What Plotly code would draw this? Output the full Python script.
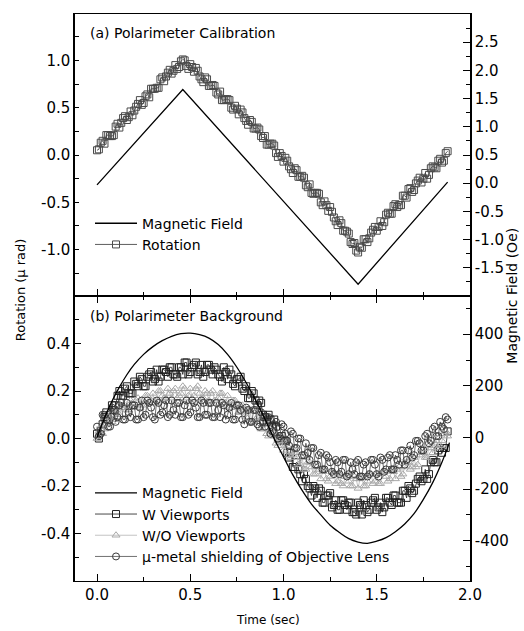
import plotly.graph_objects as go

# ---------------- data ----------------
# two interleaved acquisition passes (even / odd hundredths of a second)
time_s = [0.00, 0.02, 0.04, 0.06, 0.08, 0.10, 0.12, 0.14, 0.16, 0.18,
          0.20, 0.22, 0.24, 0.26, 0.28, 0.30, 0.32, 0.34, 0.36, 0.38,
          0.40, 0.42, 0.44, 0.46, 0.48, 0.50, 0.52, 0.54, 0.56, 0.58,
          0.60, 0.62, 0.64, 0.66, 0.68, 0.70, 0.72, 0.74, 0.76, 0.78,
          0.80, 0.82, 0.84, 0.86, 0.88, 0.90, 0.92, 0.94, 0.96, 0.98,
          1.00, 1.02, 1.04, 1.06, 1.08, 1.10, 1.12, 1.14, 1.16, 1.18,
          1.20, 1.22, 1.24, 1.26, 1.28, 1.30, 1.32, 1.34, 1.36, 1.38,
          1.40, 1.42, 1.44, 1.46, 1.48, 1.50, 1.52, 1.54, 1.56, 1.58,
          1.60, 1.62, 1.64, 1.66, 1.68, 1.70, 1.72, 1.74, 1.76, 1.78,
          1.80, 1.82, 1.84, 1.86, 1.88]
time_s2 = [0.01, 0.03, 0.05, 0.07, 0.09, 0.11, 0.13, 0.15, 0.17, 0.19,
           0.21, 0.23, 0.25, 0.27, 0.29, 0.31, 0.33, 0.35, 0.37, 0.39,
           0.41, 0.43, 0.45, 0.47, 0.49, 0.51, 0.53, 0.55, 0.57, 0.59,
           0.61, 0.63, 0.65, 0.67, 0.69, 0.71, 0.73, 0.75, 0.77, 0.79,
           0.81, 0.83, 0.85, 0.87, 0.89, 0.91, 0.93, 0.95, 0.97, 0.99,
           1.01, 1.03, 1.05, 1.07, 1.09, 1.11, 1.13, 1.15, 1.17, 1.19,
           1.21, 1.23, 1.25, 1.27, 1.29, 1.31, 1.33, 1.35, 1.37, 1.39,
           1.41, 1.43, 1.45, 1.47, 1.49, 1.51, 1.53, 1.55, 1.57, 1.59,
           1.61, 1.63, 1.65, 1.67, 1.69, 1.71, 1.73, 1.75, 1.77, 1.79,
           1.81, 1.83, 1.85, 1.87]

# (a) calibration
cal_field_t = [0.0, 0.46, 1.40, 1.88]
cal_field_oe = [-0.03, 1.66, -1.79, 0.02]
cal_rotation = [0.05, 0.13, 0.12, 0.21, 0.20, 0.30, 0.29, 0.39, 0.37, 0.46,
                0.47, 0.54, 0.53, 0.62, 0.61, 0.70, 0.71, 0.80, 0.78, 0.87,
                0.86, 0.95, 0.93, 1.01, 0.94, 0.96, 0.88, 0.89, 0.80, 0.82,
                0.73, 0.74, 0.66, 0.67, 0.58, 0.59, 0.50, 0.52, 0.43, 0.45,
                0.36, 0.37, 0.28, 0.29, 0.20, 0.20, 0.11, 0.12, 0.02, 0.02,
                -0.07, -0.06, -0.15, -0.14, -0.23, -0.22, -0.32, -0.31, -0.41, -0.40,
                -0.50, -0.49, -0.59, -0.60, -0.70, -0.69, -0.80, -0.81, -0.92, -0.93,
                -1.03, -0.98, -0.89, -0.88, -0.79, -0.80, -0.70, -0.71, -0.61, -0.62,
                -0.52, -0.53, -0.43, -0.45, -0.35, -0.37, -0.27, -0.29, -0.19, -0.21,
                -0.12, -0.14, -0.04, -0.06, 0.04]
cal_rotation2 = [0.06, 0.15, 0.21, 0.20, 0.21, 0.33, 0.34, 0.41, 0.40, 0.42,
                 0.51, 0.58, 0.55, 0.64, 0.70, 0.70, 0.71, 0.82, 0.83, 0.90,
                 0.89, 0.91, 0.99, 1.00, 0.91, 0.93, 0.92, 0.83, 0.77, 0.80,
                 0.73, 0.73, 0.64, 0.58, 0.59, 0.58, 0.48, 0.49, 0.48, 0.39,
                 0.32, 0.35, 0.28, 0.27, 0.18, 0.11, 0.12, 0.10, -0.02, -0.01,
                 -0.03, -0.12, -0.19, -0.16, -0.23, -0.24, -0.34, -0.40, -0.40, -0.41,
                 -0.53, -0.53, -0.55, -0.66, -0.74, -0.72, -0.80, -0.83, -0.94, -1.01,
                 -0.97, -0.89, -0.92, -0.82, -0.76, -0.76, -0.75, -0.63, -0.62, -0.54,
                 -0.55, -0.53, -0.43, -0.36, -0.39, -0.30, -0.24, -0.25, -0.25, -0.14,
                 -0.13, -0.06, -0.08, 0.02]

# (b) background
bg_field_t = [0.00, 0.04, 0.08, 0.12, 0.16, 0.20, 0.25, 0.30, 0.35, 0.40,
              0.45, 0.50, 0.55, 0.60, 0.65, 0.70, 0.75, 0.80, 0.85, 0.90,
              0.95, 1.00, 1.05, 1.10, 1.15, 1.20, 1.25, 1.30, 1.35, 1.40,
              1.45, 1.50, 1.55, 1.60, 1.65, 1.70, 1.75, 1.80, 1.85, 1.89]
bg_field_oe = [0, 75, 140, 195, 243, 283, 322, 352, 375, 392,
               402, 404, 398, 385, 360, 322, 272, 212, 145, 72,
               -5, -75, -145, -205, -258, -300, -340, -368, -392, -405,
               -410, -402, -388, -365, -335, -295, -240, -175, -95, -20]
w_viewports = [0.02, 0.03, 0.09, 0.08, 0.14, 0.14, 0.20, 0.18, 0.22, 0.19,
               0.24, 0.22, 0.25, 0.22, 0.27, 0.24, 0.29, 0.26, 0.29, 0.26,
               0.30, 0.27, 0.30, 0.27, 0.32, 0.28, 0.31, 0.27, 0.31, 0.28,
               0.31, 0.27, 0.29, 0.26, 0.30, 0.25, 0.27, 0.22, 0.25, 0.21,
               0.22, 0.17, 0.19, 0.14, 0.15, 0.09, 0.10, 0.05, 0.05, -0.01,
               -0.01, -0.06, -0.06, -0.12, -0.13, -0.18, -0.17, -0.21, -0.20, -0.25,
               -0.22, -0.27, -0.24, -0.29, -0.26, -0.30, -0.26, -0.30, -0.27, -0.31,
               -0.27, -0.32, -0.28, -0.30, -0.26, -0.30, -0.27, -0.29, -0.25, -0.28,
               -0.24, -0.27, -0.22, -0.25, -0.21, -0.22, -0.17, -0.18, -0.13, -0.15,
               -0.09, -0.10, -0.04, -0.04, 0.03]
w_viewports2 = [0.00, 0.06, 0.11, 0.10, 0.12, 0.18, 0.18, 0.21, 0.19, 0.19,
                0.23, 0.26, 0.22, 0.26, 0.28, 0.25, 0.24, 0.29, 0.28, 0.30,
                0.27, 0.26, 0.30, 0.32, 0.27, 0.30, 0.32, 0.28, 0.26, 0.31,
                0.29, 0.30, 0.27, 0.24, 0.28, 0.29, 0.23, 0.25, 0.26, 0.20,
                0.17, 0.20, 0.16, 0.16, 0.10, 0.07, 0.08, 0.08, 0.00, 0.01,
                -0.01, -0.08, -0.12, -0.10, -0.15, -0.15, -0.20, -0.24, -0.21, -0.21,
                -0.27, -0.24, -0.23, -0.28, -0.30, -0.26, -0.28, -0.27, -0.31, -0.32,
                -0.28, -0.26, -0.31, -0.27, -0.25, -0.29, -0.31, -0.25, -0.27, -0.24,
                -0.27, -0.27, -0.22, -0.20, -0.23, -0.19, -0.16, -0.17, -0.17, -0.10,
                -0.10, -0.05, -0.06, -0.04]
wo_viewports = [0.00, 0.05, 0.04, 0.09, 0.07, 0.12, 0.10, 0.14, 0.12, 0.16,
                0.13, 0.17, 0.14, 0.18, 0.15, 0.19, 0.16, 0.20, 0.17, 0.21,
                0.17, 0.21, 0.18, 0.22, 0.17, 0.21, 0.18, 0.22, 0.17, 0.20,
                0.16, 0.20, 0.16, 0.19, 0.15, 0.18, 0.13, 0.16, 0.11, 0.14,
                0.09, 0.12, 0.07, 0.09, 0.04, 0.06, 0.01, 0.03, -0.02, 0.00,
                -0.05, -0.03, -0.08, -0.06, -0.11, -0.08, -0.13, -0.10, -0.15, -0.12,
                -0.17, -0.13, -0.18, -0.14, -0.19, -0.15, -0.20, -0.16, -0.20, -0.16,
                -0.21, -0.16, -0.20, -0.15, -0.19, -0.15, -0.19, -0.14, -0.18, -0.13,
                -0.17, -0.12, -0.15, -0.10, -0.13, -0.08, -0.11, -0.06, -0.08, -0.03,
                -0.06, -0.01, -0.03, 0.02, 0.01]
wo_viewports2 = [0.03, 0.02, 0.06, 0.10, 0.08, 0.09, 0.13, 0.13, 0.12, 0.15,
                 0.16, 0.13, 0.16, 0.18, 0.16, 0.15, 0.20, 0.18, 0.17, 0.19,
                 0.20, 0.17, 0.19, 0.21, 0.18, 0.17, 0.21, 0.19, 0.17, 0.19,
                 0.19, 0.16, 0.17, 0.19, 0.15, 0.13, 0.16, 0.14, 0.11, 0.12,
                 0.12, 0.07, 0.08, 0.09, 0.04, 0.02, 0.04, 0.01, -0.03, -0.01,
                 -0.02, -0.07, -0.07, -0.06, -0.11, -0.13, -0.10, -0.12, -0.15, -0.13,
                 -0.14, -0.17, -0.16, -0.14, -0.18, -0.19, -0.16, -0.18, -0.20, -0.17,
                 -0.17, -0.20, -0.18, -0.15, -0.18, -0.19, -0.14, -0.16, -0.17, -0.14,
                 -0.13, -0.16, -0.12, -0.10, -0.12, -0.12, -0.07, -0.06, -0.08, -0.04,
                 -0.02, -0.04, -0.01, 0.03]
mu_metal = [0.05, 0.02, 0.10, 0.05, 0.13, 0.07, 0.14, 0.08, 0.15, 0.09,
            0.14, 0.08, 0.16, 0.10, 0.15, 0.09, 0.16, 0.10, 0.14, 0.09,
            0.16, 0.10, 0.15, 0.09, 0.16, 0.11, 0.15, 0.09, 0.16, 0.10,
            0.15, 0.09, 0.15, 0.09, 0.14, 0.10, 0.15, 0.08, 0.14, 0.08,
            0.13, 0.07, 0.12, 0.06, 0.11, 0.05, 0.09, 0.03, 0.07, 0.01,
            0.05, -0.01, 0.03, -0.04, 0.00, -0.07, -0.02, -0.09, -0.04, -0.11,
            -0.06, -0.13, -0.08, -0.14, -0.09, -0.15, -0.09, -0.16, -0.10, -0.15,
            -0.09, -0.16, -0.10, -0.15, -0.09, -0.15, -0.08, -0.14, -0.08, -0.13,
            -0.07, -0.11, -0.05, -0.09, -0.03, -0.07, -0.01, -0.05, 0.01, -0.02,
            0.04, 0.01, 0.07, 0.04, 0.08]
mu_metal2 = [0.01, 0.10, 0.08, 0.05, 0.12, 0.09, 0.15, 0.08, 0.11, 0.14,
             0.08, 0.13, 0.09, 0.16, 0.13, 0.08, 0.15, 0.11, 0.16, 0.10,
             0.12, 0.15, 0.09, 0.14, 0.10, 0.16, 0.13, 0.09, 0.15, 0.10,
             0.15, 0.09, 0.12, 0.15, 0.08, 0.13, 0.08, 0.14, 0.12, 0.06,
             0.12, 0.07, 0.12, 0.05, 0.07, 0.09, 0.02, 0.06, 0.00, 0.06,
             0.02, -0.03, 0.02, -0.04, 0.00, -0.07, -0.06, -0.04, -0.11, -0.07,
             -0.13, -0.07, -0.10, -0.15, -0.10, -0.14, -0.09, -0.15, -0.13, -0.10,
             -0.16, -0.11, -0.16, -0.09, -0.11, -0.16, -0.09, -0.13, -0.07, -0.13,
             -0.09, -0.05, -0.11, -0.05, -0.08, -0.01, -0.02, -0.05, 0.02, -0.01,
             0.05, 0.01, 0.05, 0.09]

rot_ticks = [-1.0, -0.5, 0.0, 0.5, 1.0]
rot_ticktext = ["-1.0", "-0.5", "0.0", "0.5", "1.0"]
calf_ticks = [-1.5, -1.0, -0.5, 0.0, 0.5, 1.0, 1.5, 2.0, 2.5]
calf_ticktext = ["-1.5", "-1.0", "-0.5", "0.0", "0.5", "1.0", "1.5", "2.0", "2.5"]
bg_ticks = [-0.4, -0.2, 0.0, 0.2, 0.4]
bg_ticktext = ["-0.4", "-0.2", "0.0", "0.2", "0.4"]
bgf_ticks = [-400, -200, 0, 200, 400]
bgf_ticktext = ["-400", "-200", "0", "200", "400"]
time_ticks = [0.0, 0.5, 1.0, 1.5, 2.0]
time_ticktext = ["0.0", "0.5", "1.0", "1.5", "2.0"]


def merged(t1, v1, t2, v2):
    pts = sorted(zip(t1 + t2, v1 + v2))
    return [p[0] for p in pts], [p[1] for p in pts]


# ---------------- figure ----------------
FONT = "DejaVu Sans"
fig = go.Figure()

fig.add_trace(go.Scatter(x=cal_field_t, y=cal_field_oe, xaxis="x", yaxis="y2",
                         mode="lines", line=dict(color="black", width=1.3),
                         name="Magnetic Field", legend="legend"))
tx, ty = merged(time_s, cal_rotation, time_s2, cal_rotation2)
fig.add_trace(go.Scatter(x=tx, y=ty, xaxis="x", yaxis="y",
                         mode="lines+markers", line=dict(color="#333333", width=0.8),
                         marker=dict(symbol="square-open", size=7, color="#4a4a4a",
                                     line=dict(width=1)),
                         name="Rotation", legend="legend"))

fig.add_trace(go.Scatter(x=bg_field_t, y=bg_field_oe, xaxis="x2", yaxis="y4",
                         mode="lines", line=dict(color="black", width=1.3, shape="spline"),
                         name="Magnetic Field", legend="legend2"))
tx, ty = merged(time_s, w_viewports, time_s2, w_viewports2)
fig.add_trace(go.Scatter(x=tx, y=ty, xaxis="x2", yaxis="y3",
                         mode="lines+markers", line=dict(color="#1a1a1a", width=0.8),
                         marker=dict(symbol="square-open", size=7, color="#222222",
                                     line=dict(width=1)),
                         name="W Viewports", legend="legend2"))
tx, ty = merged(time_s, wo_viewports, time_s2, wo_viewports2)
fig.add_trace(go.Scatter(x=tx, y=ty, xaxis="x2", yaxis="y3",
                         mode="lines+markers", line=dict(color="#b4b4b4", width=0.8),
                         marker=dict(symbol="triangle-up-open", size=7, color="#a8a8a8",
                                     line=dict(width=1)),
                         name="W/O Viewports", legend="legend2"))
tx, ty = merged(time_s, mu_metal, time_s2, mu_metal2)
fig.add_trace(go.Scatter(x=tx, y=ty, xaxis="x2", yaxis="y3",
                         mode="lines+markers", line=dict(color="#333333", width=0.7),
                         marker=dict(symbol="circle-open", size=7, color="#3a3a3a",
                                     line=dict(width=1)),
                         name="\u00b5-metal shielding of Objective Lens", legend="legend2"))

axis_common = dict(showline=True, linecolor="black", linewidth=1.5, showgrid=False,
                   zeroline=False, ticks="inside", ticklen=6, tickwidth=1.2,
                   tickcolor="black", tickfont=dict(family=FONT, size=15, color="black"))

TOP_DOM = [0.5026, 1.0]
BOT_DOM = [0.0, 0.5026]
XR = [-0.118, 2.0]

fig.update_layout(
    width=524, height=631,
    margin=dict(l=75, r=54, t=14, b=50),
    plot_bgcolor="white", paper_bgcolor="white",
    font=dict(family=FONT, size=14, color="black"),
    showlegend=True,
    xaxis=dict(axis_common, domain=[0, 1], anchor="y", range=XR, tickmode="array",
               tickvals=time_ticks, showticklabels=False, mirror=True, ticklen=7,
               linewidth=1.1,
               minor=dict(ticks="inside", ticklen=4, tickcolor="black", tick0=0, dtick=0.25)),
    yaxis=dict(axis_common, domain=TOP_DOM, anchor="x", range=[-1.49, 1.49],
               tickmode="array", tickvals=rot_ticks, ticktext=rot_ticktext, ticklen=4,
               minor=dict(ticks="inside", ticklen=4, tickcolor="black", tick0=0, dtick=0.25)),
    yaxis2=dict(axis_common, overlaying="y", side="right", anchor="x", range=[-2.0, 3.0],
                tickmode="array", tickvals=calf_ticks, ticktext=calf_ticktext, ticklen=7,
                minor=dict(ticks="inside", ticklen=4, tickcolor="black", tick0=0, dtick=0.25)),
    xaxis2=dict(axis_common, domain=[0, 1], anchor="y3", range=XR, tickmode="array",
                tickvals=time_ticks, ticktext=time_ticktext, mirror="ticks", ticklen=7,
                linewidth=1.1,
                minor=dict(ticks="inside", ticklen=4, tickcolor="black", tick0=0, dtick=0.25)),
    yaxis3=dict(axis_common, domain=BOT_DOM, anchor="x2", range=[-0.6, 0.6],
                tickmode="array", tickvals=bg_ticks, ticktext=bg_ticktext, ticklen=6,
                minor=dict(ticks="inside", ticklen=4, tickcolor="black", tick0=0, dtick=0.1)),
    yaxis4=dict(axis_common, overlaying="y3", side="right", anchor="x2", range=[-556, 548],
                tickmode="array", tickvals=bgf_ticks, ticktext=bgf_ticktext, ticklen=7,
                minor=dict(ticks="inside", ticklen=4, tickcolor="black", tick0=0, dtick=100)),
    legend=dict(x=0.038, y=0.6585, xanchor="left", yanchor="top", bgcolor="rgba(0,0,0,0)",
                font=dict(family=FONT, size=14), itemwidth=42, tracegroupgap=0),
    legend2=dict(x=0.038, y=0.183, xanchor="left", yanchor="top", bgcolor="rgba(0,0,0,0)",
                 font=dict(family=FONT, size=14), itemwidth=42, tracegroupgap=0),
    annotations=[
        dict(text="(a) Polarimeter Calibration", xref="paper", yref="paper",
             x=0.033, y=0.966, xanchor="left", yanchor="middle", showarrow=False,
             font=dict(family=FONT, size=14)),
        dict(text="(b) Polarimeter Background", xref="paper", yref="paper",
             x=0.033, y=0.467, xanchor="left", yanchor="middle", showarrow=False,
             font=dict(family=FONT, size=14)),
        dict(text="Rotation (\u00b5 rad)", xref="paper", yref="paper",
             x=-0.139, y=0.513, xanchor="center", yanchor="middle", textangle=-90,
             showarrow=False, font=dict(family=FONT, size=13)),
        dict(text="Magnetic Field (Oe)", xref="paper", yref="paper",
             x=1.106, y=0.503, xanchor="center", yanchor="middle", textangle=-90,
             showarrow=False, font=dict(family=FONT, size=14)),
        dict(text="Time (sec)", xref="paper", yref="paper",
             x=0.489, y=-0.069, xanchor="center", yanchor="middle",
             showarrow=False, font=dict(family=FONT, size=12)),
    ],
)

fig.write_html("out.html")
